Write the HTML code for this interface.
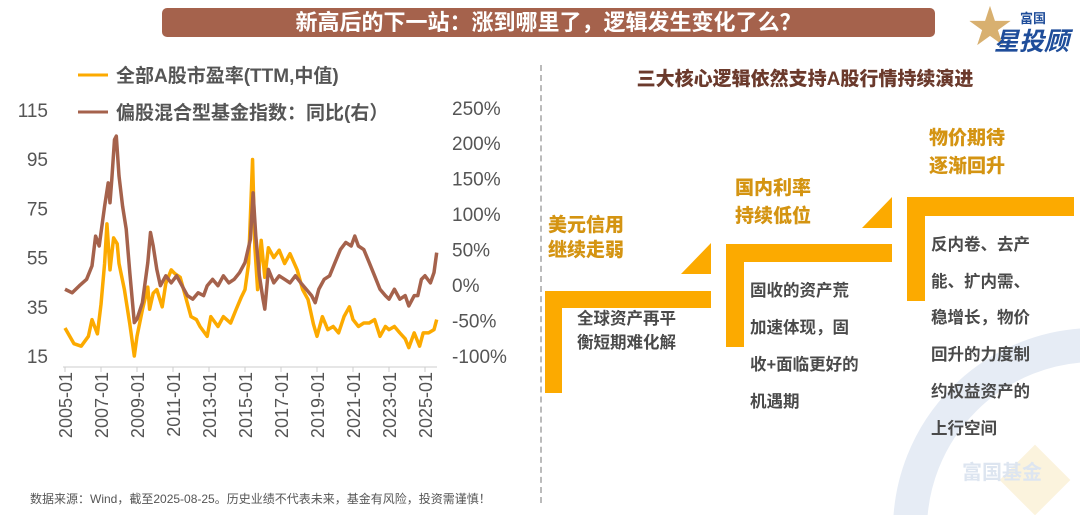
<!DOCTYPE html>
<html style="overflow:hidden;height:515px"><head><meta charset="utf-8">
<style>
body{margin:0;width:1080px;height:515px;background:#fff;overflow:hidden;position:relative;font-family:"Liberation Sans","Noto Sans CJK SC",sans-serif;}
.abs{position:absolute;}
.hd{left:162px;top:8px;width:773px;height:29px;background:#a5624c;border-radius:5px;color:#fff;font-weight:bold;font-size:22px;text-align:center;line-height:29px;}
.gold{color:#d49412;font-weight:900;font-size:19px;line-height:25px;}
.body{color:#4a4a4a;font-weight:bold;font-size:16.5px;}
.bar{background:#fcaa00;}
</style></head><body>
<svg class="abs" style="left:0;top:0" width="1080" height="515">
<circle cx="1095" cy="530" r="185" fill="none" stroke="#e6ecf5" stroke-width="34"/>
<rect x="1010" y="455" width="50" height="50" fill="#fbf3dd" transform="rotate(45 1035 480)"/>
</svg>
<div class="abs hd">新高后的下一站：涨到哪里了，逻辑发生变化了么？</div>
<div class="abs" style="left:968px;top:4px;width:105px;height:50px;">
<span class="abs" style="left:0;top:2px;font-size:44px;color:#d8b070;line-height:44px">★</span>
<span class="abs" style="left:52px;top:4px;font-size:13px;font-weight:bold;color:#1f4d9a">富国</span>
<span class="abs" style="left:26px;top:18px;font-size:25px;font-weight:bold;color:#1f4d9a;font-style:italic">星投顾</span>
</div>
<svg class="abs" style="left:0;top:0" width="540" height="480" id="chart"></svg>
<div class="abs" style="left:540px;top:65px;height:438px;border-left:2px dashed #bbb;"></div>
<div class="abs" style="left:580px;top:64px;width:450px;text-align:center;font-size:19px;font-weight:900;color:#6b3a2c">三大核心逻辑依然支持A股行情持续演进</div>

<div class="abs bar" style="left:545px;top:291px;width:166px;height:17px"></div>
<div class="abs bar" style="left:545px;top:291px;width:17px;height:102px"></div>
<svg class="abs" style="left:0;top:0" width="1080" height="515">
<polygon points="681,274 711,274 711,243" fill="#fcaa00"/>
<polygon points="862,228 892,228 892,197" fill="#fcaa00"/>
</svg>
<div class="abs gold" style="left:548px;top:213px">美元信用<br>继续走弱</div>
<div class="abs body" style="left:577px;top:307px;line-height:24px">全球资产再平<br>衡短期难化解</div>

<div class="abs bar" style="left:726px;top:244px;width:166px;height:18px"></div>
<div class="abs bar" style="left:726px;top:244px;width:18px;height:103px"></div>
<div class="abs gold" style="left:735px;top:175px;line-height:28px">国内利率<br>持续低位</div>
<div class="abs body" style="left:750px;top:273px;line-height:37px">固收的资产荒<br>加速体现，固<br>收+面临更好的<br>机遇期</div>

<div class="abs bar" style="left:907px;top:197px;width:167px;height:19px"></div>
<div class="abs bar" style="left:907px;top:197px;width:18px;height:104px"></div>
<div class="abs gold" style="left:929px;top:125px;line-height:28px">物价期待<br>逐渐回升</div>
<div class="abs body" style="left:931px;top:227px;line-height:36.7px">反内卷、去产<br>能、扩内需、<br>稳增长，物价<br>回升的力度制<br>约权益资产的<br>上行空间</div>
<div class="abs" style="left:962px;top:456px;font-size:20px;font-weight:bold;color:#dde5f0">富国基金</div>

<div class="abs" style="left:30px;top:492px;font-size:12px;line-height:14px;color:#555">数据来源：Wind，截至2025-08-25。历史业绩不代表未来，基金有风险，投资需谨慎！</div>

<script>
const peYears=[2005,2005.5,2005.9,2006.3,2006.5,2006.8,2007,2007.2,2007.33,2007.5,2007.7,2007.9,2008,2008.3,2008.6,2008.85,2009,2009.3,2009.6,2009.7,2009.9,2010.1,2010.4,2010.6,2010.9,2011.1,2011.4,2011.7,2012,2012.3,2012.5,2012.9,2013.1,2013.5,2013.8,2014.2,2014.5,2014.8,2015,2015.2,2015.42,2015.55,2015.7,2015.9,2016.1,2016.3,2016.6,2016.9,2017.2,2017.5,2017.9,2018.2,2018.5,2018.8,2019,2019.3,2019.6,2019.9,2020.2,2020.5,2020.8,2021,2021.3,2021.6,2021.9,2022.2,2022.5,2022.8,2023,2023.3,2023.6,2023.9,2024.1,2024.4,2024.7,2024.9,2025.2,2025.5,2025.65];
const peValues=[26.4,20,19,23,29.8,24,36,52.6,68.7,50,63,60.6,52.6,42,28,15,23,33.8,43,34,40.5,42,35,44.5,50,48.5,47,39,31,29.8,27,23,31,27,31,28.4,33.8,39,42,52.6,94.9,59,42,62,47,59,55,58,52.6,56.6,50,42,38,28,23,31,25.7,27,24.4,31,35,29.8,27,28.4,28.4,29.8,23,27,25.7,27,24.4,22,18.4,24.4,19,24.4,24.4,25.7,29.8];
const yoyYears=[2005,2005.4,2005.8,2006.2,2006.5,2006.7,2006.9,2007.2,2007.4,2007.5,2007.6,2007.75,2007.85,2008,2008.2,2008.4,2008.6,2008.85,2009,2009.3,2009.6,2009.75,2009.9,2010.1,2010.3,2010.6,2010.9,2011.2,2011.5,2011.8,2012.1,2012.4,2012.7,2012.9,2013.2,2013.5,2013.8,2014.1,2014.4,2014.7,2015,2015.3,2015.45,2015.6,2015.8,2016,2016.1,2016.3,2016.6,2016.9,2017.2,2017.5,2017.8,2018.1,2018.4,2018.7,2018.9,2019.1,2019.4,2019.7,2020,2020.3,2020.6,2020.9,2021.1,2021.3,2021.6,2021.9,2022.2,2022.5,2022.8,2023,2023.3,2023.6,2023.9,2024.1,2024.4,2024.6,2024.8,2025,2025.3,2025.5,2025.65];
const yoyValues=[-6,-11,-1,8,27,69,55,111,144,116,149,205,210,154,111,79,17.5,-53,-48,-25,31.6,74,55,22,-1,13,3,13,-1,-15,-20,-11,-15,-1,8,-1,13,3,8,17.5,31.6,64.5,130,69,13,-20,-34,22,3,13,8,3,13,3,-6,-15,-25,-6,8,13,31.6,50,60,55,69,55,50,31.6,13,-6,-15,-20,-6,-20,-15,-29.5,-15,-15,8,13,3,17.5,45.7];
const leftTicks=[15,35,55,75,95,115];
const rightTicks=[-100,-50,0,50,100,150,200,250];
const xTicks=["2005-01","2007-01","2009-01","2011-01","2013-01","2015-01","2017-01","2019-01","2021-01","2023-01","2025-01"];

const NS="http://www.w3.org/2000/svg";
const svg=document.getElementById('chart');
const xS=y=>65+(y-2005)*18;
const yL=v=>356-(v-15)*2.46;
const yR=v=>285-v*0.709;
function mk(t,a,txt){const e=document.createElementNS(NS,t);for(const k in a)e.setAttribute(k,a[k]);if(txt!==undefined)e.textContent=txt;svg.appendChild(e);return e;}
leftTicks.forEach(v=>{const e=mk('text',{x:48,y:yL(v)+7,'text-anchor':'end','font-size':19,fill:'#555'},v);

});
rightTicks.forEach(v=>{const e=mk('text',{x:452,y:yR(v)+7,'font-size':19,fill:'#555'},v+'%');

});
const ax=mk('line',{x1:63,x2:437,y1:367,y2:367,stroke:'#ccc','stroke-width':1});


xTicks.forEach((t,i)=>{const x=xS(2005+2*i);
const tk=mk('line',{x1:x,x2:x,y1:367,y2:372,stroke:'#ccc'});


const e=mk('text',{x:x+7,y:372,'text-anchor':'end','font-size':18,fill:'#555',transform:`rotate(-90 ${x+7} 372)`},t);

});
const pe=mk('polyline',{points:peYears.map((y,i)=>xS(y)+','+yL(peValues[i])).join(' '),fill:'none',stroke:'#fcaa00','stroke-width':3.5,'stroke-linejoin':'round'});


const yy=mk('polyline',{points:yoyYears.map((y,i)=>xS(y)+','+yR(yoyValues[i])).join(' '),fill:'none',stroke:'#a5624c','stroke-width':3.5,'stroke-linejoin':'round'});


const l1=mk('line',{x1:78,x2:108,y1:75,y2:75,stroke:'#fcaa00','stroke-width':3});


const t1=mk('text',{x:116,y:82,'font-size':19,'font-weight':'bold',fill:'#555'},'全部A股市盈率(TTM,中值)');


const l2=mk('line',{x1:78,x2:108,y1:112,y2:112,stroke:'#a5624c','stroke-width':3});


const t2=mk('text',{x:116,y:119,'font-size':19,'font-weight':'bold',fill:'#555'},'偏股混合型基金指数：同比(右）');


</script>
</body></html>
